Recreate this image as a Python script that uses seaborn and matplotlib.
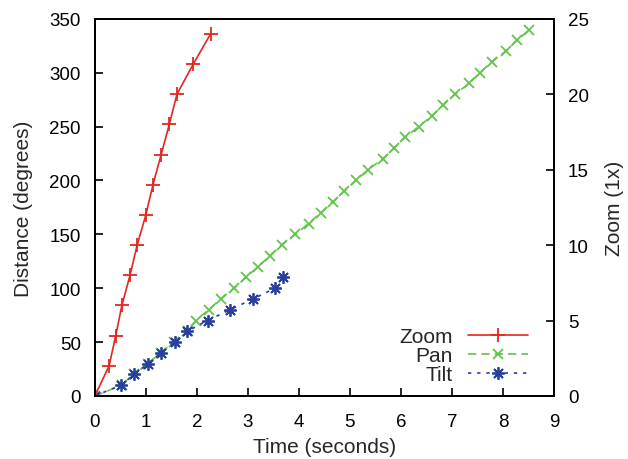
import matplotlib
matplotlib.use("Agg")
import matplotlib.pyplot as plt
import seaborn as sns
import pandas as pd

# ---- data ----
zoom_time = [0, 0.28, 0.41, 0.53, 0.69, 0.83, 1.00, 1.14, 1.30, 1.46, 1.61, 1.93, 2.27]
zoom_level = [0, 2, 4, 6, 8, 10, 12, 14, 16, 18, 20, 22, 24]

pan_time = [0, 0.53, 0.77, 1.04, 1.29, 1.55, 1.83, 1.98, 2.23, 2.47, 2.73, 2.96,
            3.20, 3.43, 3.66, 3.93, 4.19, 4.43, 4.66, 4.89, 5.12, 5.36, 5.64,
            5.87, 6.08, 6.35, 6.61, 6.83, 7.06, 7.34, 7.55, 7.78, 8.06, 8.28, 8.52]
pan_dist = [0, 10, 20, 30, 40, 50, 60, 70, 80, 90, 100, 110, 120, 130, 140, 150,
            160, 170, 180, 190, 200, 210, 220, 230, 240, 250, 260, 270, 280, 290,
            300, 310, 320, 330, 340]

tilt_time = [0, 0.51, 0.77, 1.04, 1.30, 1.57, 1.81, 2.21, 2.65, 3.10, 3.53, 3.68]
tilt_dist = [0, 10, 20, 30, 40, 50, 60, 70, 80, 90, 100, 110]

x_ticks = [0, 1, 2, 3, 4, 5, 6, 7, 8, 9]
left_ticks = [0, 50, 100, 150, 200, 250, 300, 350]
right_ticks = [0, 5, 10, 15, 20, 25]

sns.set_theme(style="white")
plt.rcParams["font.family"] = ["Liberation Sans", "DejaVu Sans"]

TICK_FS = 13.5
LABEL_FS = 15

RED = "#e3261e"
GREEN = "#62c44c"
BLUE = "#27409c"

fig = plt.figure(figsize=(6.28, 4.60), dpi=100)
ax = fig.add_axes([0.151, 0.137, 0.731, 0.820])
ax2 = ax.twinx()

pan_df = pd.DataFrame({"t": pan_time, "d": pan_dist})
tilt_df = pd.DataFrame({"t": tilt_time, "d": tilt_dist})
zoom_df = pd.DataFrame({"t": zoom_time, "z": zoom_level})

sns.lineplot(data=pan_df, x="t", y="d", ax=ax, sort=False, color=GREEN,
             linestyle=(0, (5, 3)), linewidth=1.2, marker="x", markersize=7,
             markeredgewidth=1.3, markeredgecolor=GREEN, label="Pan", legend=False)
sns.lineplot(data=tilt_df, x="t", y="d", ax=ax, sort=False, color=BLUE,
             linestyle=(0, (2, 3.5)), linewidth=1.2, marker=(8, 2, 0), markersize=9,
             markeredgewidth=1.3, markeredgecolor=BLUE, label="Tilt", legend=False)
sns.lineplot(data=zoom_df, x="t", y="z", ax=ax2, sort=False, color=RED,
             linestyle="-", linewidth=1.2, marker="+", markersize=9.5,
             markeredgewidth=1.3, markeredgecolor=RED, label="Zoom", legend=False)

ax.set_xlim(0, 9)
ax.set_ylim(0, 350)
ax2.set_ylim(0, 25)
ax.set_xticks(x_ticks)
ax.set_yticks(left_ticks)
ax2.set_yticks(right_ticks)

ax.set_xlabel("Time (seconds)", fontsize=LABEL_FS, labelpad=5)
ax.set_ylabel("Distance (degrees)", fontsize=LABEL_FS, labelpad=12)
ax2.set_ylabel("Zoom (1x)", fontsize=LABEL_FS, labelpad=12)

for a in (ax, ax2):
    for s in a.spines.values():
        s.set_color("black")
        s.set_linewidth(1.4)
ax.tick_params(axis="x", direction="in", length=6, width=1.2, bottom=True, top=False,
               labelsize=TICK_FS, colors="black", pad=12)
ax.tick_params(axis="y", direction="in", length=6, width=1.2, left=True, right=False,
               labelsize=TICK_FS, colors="black", pad=10)
ax2.tick_params(axis="y", direction="in", length=6, width=1.2, right=True, left=False,
                labelsize=TICK_FS, colors="black", pad=10)

h1, l1 = ax.get_legend_handles_labels()
h2, l2 = ax2.get_legend_handles_labels()
handles = h2 + h1
labels = l2 + l1
ax2.legend(handles, labels, loc="lower right", bbox_to_anchor=(0.980, -0.013),
           frameon=False, markerfirst=False,
           fontsize=LABEL_FS, handlelength=2.9, labelspacing=0.0, borderaxespad=0.5,
           handletextpad=0.7, borderpad=0.3)

fig.savefig("out.png", dpi=100)
